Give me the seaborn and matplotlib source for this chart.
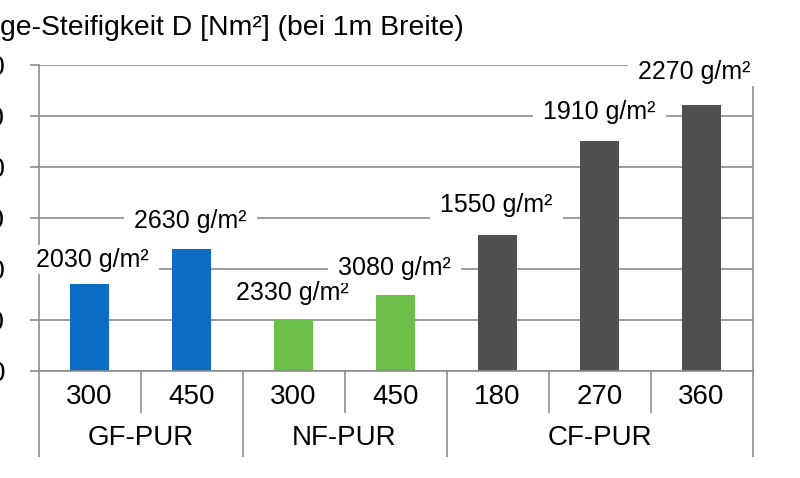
import matplotlib
matplotlib.use("Agg")
import matplotlib.pyplot as plt
import matplotlib.transforms as mtransforms
from matplotlib.path import Path
import seaborn as sns
import pandas as pd

# ---- data ----
groups = ["GF-PUR", "GF-PUR", "NF-PUR", "NF-PUR", "CF-PUR", "CF-PUR", "CF-PUR"]
sizes = ["300", "450", "300", "450", "180", "270", "360"]
stiffness = [17.1, 23.9, 10.0, 14.9, 26.7, 45.1, 52.2]
weight_labels = ["2030 g/m²", "2630 g/m²", "2330 g/m²", "3080 g/m²",
                 "1550 g/m²", "1910 g/m²", "2270 g/m²"]
y_ticks = [0, 10, 20, 30, 40, 50, 60]
title_text = "ge-Steifigkeit D [Nm²] (bei 1m Breite)"

# ---- style ----
sns.set_theme(style="white")
plt.rcParams["font.family"] = ["Liberation Sans", "DejaVu Sans"]

colors = {"GF-PUR": "#0A6CC4", "NF-PUR": "#6CC04A", "CF-PUR": "#505050"}
grid_c = "#8C8C8C"
lw = 1.2

df = pd.DataFrame({
    "key": [f"{g} {s}" for g, s in zip(groups, sizes)],
    "group": groups,
    "value": stiffness,
})

fig = plt.figure(figsize=(8.0, 4.78), dpi=100)
W, H = 800, 478
x0, x1, ytop, ybot = 38.5, 752.5, 65, 371
ax = fig.add_axes([x0 / W, (H - ybot) / H, (x1 - x0) / W, (ybot - ytop) / H])

sns.barplot(data=df, x="key", y="value", hue="group", palette=colors,
            dodge=False, width=0.39, legend=False, ax=ax,
            order=df["key"].tolist(), saturation=1, linewidth=0)

ax.set_xlim(-0.5, len(sizes) - 0.5)
ax.set_ylim(y_ticks[0], y_ticks[-1])
ax.set_yticks(y_ticks)
ax.set_yticklabels([str(v) for v in y_ticks])
ax.set_axisbelow(True)
ax.yaxis.grid(True, color=grid_c, linewidth=lw)
ax.xaxis.grid(False)
ax.set_xlabel("")
ax.set_ylabel("")

ax.spines["top"].set_visible(False)
for s in ["left", "right", "bottom"]:
    ax.spines[s].set_visible(True)
    ax.spines[s].set_color(grid_c)
    ax.spines[s].set_linewidth(lw)

ax.tick_params(axis="y", direction="out", length=6.5, width=lw, color=grid_c,
               pad=17.6, labelsize=20, labelcolor="black", left=True)
ax.set_xticks(range(len(sizes)))
ax.set_xticklabels(sizes)
ax.tick_params(axis="x", length=0, pad=9, labelsize=20, labelcolor="black")

# category separators (multi-level axis)
trans = mtransforms.blended_transform_factory(ax.transData, ax.transAxes)
short_h = (413 - ybot) / (ybot - ytop)
long_h = (457 - ybot) / (ybot - ytop)
bounds = [i - 0.5 for i in range(len(sizes) + 1)]
for b in bounds:
    left = groups[int(b - 0.5)] if b > -0.5 else None
    right = groups[int(b + 0.5)] if b + 0.5 < len(groups) else None
    h = short_h if (left is not None and right is not None and left == right) else long_h
    ax.plot([b, b], [0, -h], transform=trans, color=grid_c, lw=lw,
            clip_on=False, solid_capstyle="butt")

# group labels
seen = []
for g in groups:
    if g not in seen:
        seen.append(g)
for g in seen:
    idx = [i for i, gg in enumerate(groups) if gg == g]
    xc = sum(idx) / len(idx)
    ax.text(xc, -(445 - ybot) / (ybot - ytop), g, transform=trans,
            ha="center", va="baseline", fontsize=20, color="black")


def hpad_box(x0, y0, width, height, mutation_size):
    px = 0.4 * mutation_size
    py = 0.1 * mutation_size
    verts = [(x0 - px, y0 - py), (x0 + width + px, y0 - py),
             (x0 + width + px, y0 + height + py), (x0 - px, y0 + height + py),
             (x0 - px, y0 - py)]
    return Path(verts, closed=True)


# data labels (manually positioned, white background)
offsets = [(3, 17), (-1, 21), (-1, 20), (-1, 20), (-1, 23), (0, 22), (-7, 26)]
for i, (lab, v) in enumerate(zip(weight_labels, stiffness)):
    dx, dy = offsets[i]
    ax.annotate(lab, xy=(i, v), xytext=(dx, dy), textcoords="offset pixels",
                ha="center", va="baseline", fontsize=18, color="black",
                bbox=dict(boxstyle=hpad_box, fc="white", ec="none"),
                zorder=10, annotation_clip=False)

# title (the reference is cropped at the left edge)
fig.text(0.5 / W, (H - 35) / H, title_text, ha="left", va="baseline",
         fontsize=20.4, color="black")

fig.savefig("out.png", dpi=100, facecolor="white")
